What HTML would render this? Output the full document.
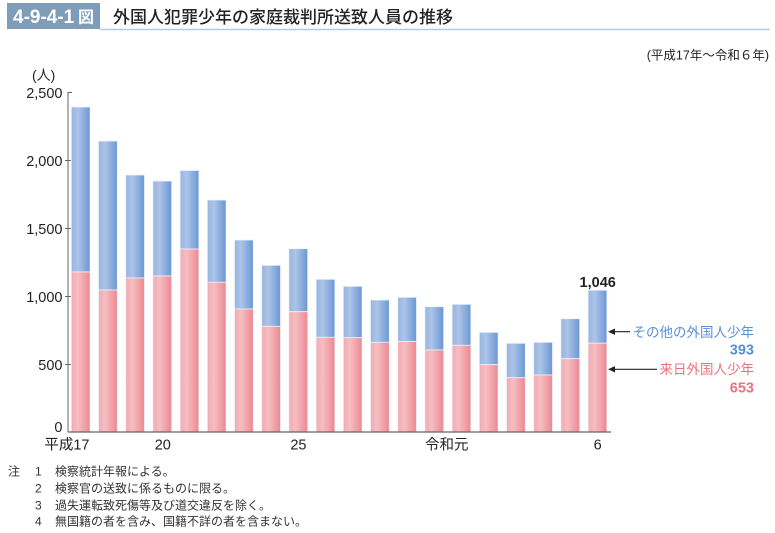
<!DOCTYPE html>
<html>
<head>
<meta charset="utf-8">
<style>
html,body{margin:0;padding:0;background:#fff;}
svg{display:block;}
text{font-family:"Liberation Sans","Noto Sans CJK JP",sans-serif;}
</style>
</head>
<body>
<svg width="775" height="533" viewBox="0 0 775 533" xmlns="http://www.w3.org/2000/svg">
<defs>
<linearGradient id="gb" x1="0" y1="0" x2="1" y2="0">
<stop offset="0" stop-color="#97b4e0"/>
<stop offset="0.35" stop-color="#adc4e8"/>
<stop offset="1" stop-color="#6a97d4"/>
</linearGradient>
<linearGradient id="gr" x1="0" y1="0" x2="1" y2="0">
<stop offset="0" stop-color="#f2aab0"/>
<stop offset="0.35" stop-color="#f6bec2"/>
<stop offset="1" stop-color="#ec8891"/>
</linearGradient>
</defs>

<!-- Title -->
<rect x="7" y="3" width="93" height="26" fill="#7f9cb9"/>
<text x="13" y="23" font-size="19" font-weight="bold" fill="#fff">4-9-4-1</text>
<text x="78" y="22.5" font-size="16" font-weight="bold" fill="#fff" font-family="'Noto Sans CJK JP',sans-serif">図</text>
<line x1="100" y1="29.5" x2="770" y2="29.5" stroke="#b7cadb" stroke-width="1.5"/>
<text x="113" y="23" font-size="17" font-weight="500" fill="#222" font-family="'Noto Sans CJK JP',sans-serif">外国人犯罪少年の家庭裁判所送致人員の推移</text>

<text x="769" y="59.5" font-size="12.5" fill="#222" text-anchor="end">(平成17年～令和６年)</text>

<!-- Y axis -->
<text x="32" y="80" font-size="14" fill="#222">(人)</text>
<line x1="68" y1="92" x2="68" y2="432" stroke="#666" stroke-width="1"/>
<g stroke="#666" stroke-width="1">
<line x1="68" y1="92.5" x2="72" y2="92.5"/>
<line x1="65" y1="160.5" x2="71" y2="160.5"/>
<line x1="65" y1="228.5" x2="71" y2="228.5"/>
<line x1="65" y1="296.5" x2="71" y2="296.5"/>
<line x1="65" y1="364.5" x2="71" y2="364.5"/>
</g>
<g font-size="14.5" fill="#222" text-anchor="end">
<text x="62.5" y="98">2,500</text>
<text x="62.5" y="166">2,000</text>
<text x="62.5" y="234">1,500</text>
<text x="62.5" y="302">1,000</text>
<text x="62.5" y="370">500</text>
<text x="62.5" y="432">0</text>
</g>

<!-- Bars -->
<g stroke="#eef2fa" stroke-width="0.8">
<rect x="71.3" y="107" width="18.8" height="165" fill="url(#gb)"/><rect x="71.3" y="272" width="18.8" height="160" fill="url(#gr)"/>
<rect x="98.5" y="141" width="18.8" height="149" fill="url(#gb)"/><rect x="98.5" y="290" width="18.8" height="142" fill="url(#gr)"/>
<rect x="125.7" y="175" width="18.8" height="103" fill="url(#gb)"/><rect x="125.7" y="278" width="18.8" height="154" fill="url(#gr)"/>
<rect x="152.9" y="181" width="18.8" height="95" fill="url(#gb)"/><rect x="152.9" y="276" width="18.8" height="156" fill="url(#gr)"/>
<rect x="180.1" y="170.5" width="18.8" height="78.5" fill="url(#gb)"/><rect x="180.1" y="249" width="18.8" height="183" fill="url(#gr)"/>
<rect x="207.3" y="200" width="18.8" height="82.3" fill="url(#gb)"/><rect x="207.3" y="282.3" width="18.8" height="149.7" fill="url(#gr)"/>
<rect x="234.5" y="240" width="18.8" height="69" fill="url(#gb)"/><rect x="234.5" y="309" width="18.8" height="123" fill="url(#gr)"/>
<rect x="261.7" y="265.3" width="18.8" height="61" fill="url(#gb)"/><rect x="261.7" y="326.3" width="18.8" height="105.7" fill="url(#gr)"/>
<rect x="288.9" y="248.7" width="18.8" height="63" fill="url(#gb)"/><rect x="288.9" y="311.7" width="18.8" height="120.3" fill="url(#gr)"/>
<rect x="316.1" y="279.3" width="18.8" height="58" fill="url(#gb)"/><rect x="316.1" y="337.3" width="18.8" height="94.7" fill="url(#gr)"/>
<rect x="343.3" y="286.3" width="18.8" height="51.4" fill="url(#gb)"/><rect x="343.3" y="337.7" width="18.8" height="94.3" fill="url(#gr)"/>
<rect x="370.5" y="300" width="18.8" height="42.3" fill="url(#gb)"/><rect x="370.5" y="342.3" width="18.8" height="89.7" fill="url(#gr)"/>
<rect x="397.7" y="297.3" width="18.8" height="44.2" fill="url(#gb)"/><rect x="397.7" y="341.5" width="18.8" height="90.5" fill="url(#gr)"/>
<rect x="424.9" y="306.7" width="18.8" height="43.3" fill="url(#gb)"/><rect x="424.9" y="350" width="18.8" height="82" fill="url(#gr)"/>
<rect x="452.1" y="304.3" width="18.8" height="41" fill="url(#gb)"/><rect x="452.1" y="345.3" width="18.8" height="86.7" fill="url(#gr)"/>
<rect x="479.3" y="332.3" width="18.8" height="32.4" fill="url(#gb)"/><rect x="479.3" y="364.7" width="18.8" height="67.3" fill="url(#gr)"/>
<rect x="506.5" y="343.3" width="18.8" height="34.4" fill="url(#gb)"/><rect x="506.5" y="377.7" width="18.8" height="54.3" fill="url(#gr)"/>
<rect x="533.7" y="342.3" width="18.8" height="32.7" fill="url(#gb)"/><rect x="533.7" y="375" width="18.8" height="57" fill="url(#gr)"/>
<rect x="560.9" y="318.7" width="18.8" height="40" fill="url(#gb)"/><rect x="560.9" y="358.7" width="18.8" height="73.3" fill="url(#gr)"/>
<rect x="588.1" y="290.2" width="18.8" height="53" fill="url(#gb)"/><rect x="588.1" y="343.2" width="18.8" height="88.8" fill="url(#gr)"/>
</g>

<!-- X axis -->
<line x1="68" y1="432" x2="611" y2="432" stroke="#666" stroke-width="1.2"/>
<g font-size="14.5" fill="#222">
<text x="89.5" y="449.5" text-anchor="end">平成17</text>
<text x="162.8" y="449.5" text-anchor="middle">20</text>
<text x="298.4" y="449.5" text-anchor="middle">25</text>
<text x="468.5" y="449.5" text-anchor="end">令和元</text>
<text x="597.7" y="449.5" text-anchor="middle">6</text>
</g>

<!-- Annotations -->
<text x="597.7" y="287" font-size="14.5" font-weight="bold" fill="#222" text-anchor="middle">1,046</text>
<line x1="613" y1="331.7" x2="630" y2="331.7" stroke="#222" stroke-width="1.2"/>
<polygon points="608,331.7 615,328.5 615,334.9" fill="#222"/>
<line x1="613" y1="369.3" x2="657" y2="369.3" stroke="#222" stroke-width="1.2"/>
<polygon points="608,369.3 615,366.1 615,372.5" fill="#222"/>
<text x="754" y="337" font-size="13.5" fill="#5b8fd0" text-anchor="end">その他の外国人少年</text>
<text x="754" y="354.5" font-size="14.5" font-weight="bold" fill="#5b8fd0" text-anchor="end">393</text>
<text x="754" y="374" font-size="13.5" fill="#e8747c" text-anchor="end">来日外国人少年</text>
<text x="754" y="392.5" font-size="14.5" font-weight="bold" fill="#e8747c" text-anchor="end">653</text>

<!-- Notes -->
<g font-size="12" fill="#333">
<text x="8" y="475.5">注</text>
<text x="35" y="475.5">1</text>
<text x="55" y="475.5">検察統計年報による。</text>
<text x="35" y="492.5">2</text>
<text x="55" y="492.5">検察官の送致に係るものに限る。</text>
<text x="35" y="509.5">3</text>
<text x="55" y="509.5">過失運転致死傷等及び道交違反を除く。</text>
<text x="35" y="525.5">4</text>
<text x="55" y="525.5">無国籍の者を含み、国籍不詳の者を含まない。</text>
</g>
</svg>
</body>
</html>
